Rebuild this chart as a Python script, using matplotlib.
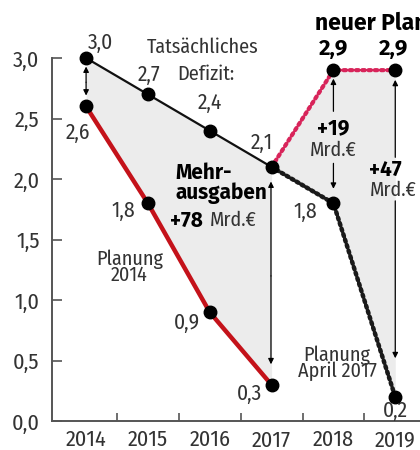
import matplotlib
matplotlib.use("Agg")
import matplotlib.pyplot as plt
from matplotlib import font_manager as fm

_avail = set(f.name for f in fm.fontManager.ttflist)
_cands = ['Fira Sans Condensed', 'PT Sans Narrow', 'Roboto Condensed', 'Open Sans Condensed',
          'Archivo Narrow', 'Asap Condensed', 'Liberation Sans Narrow', 'Encode Sans Condensed']
FONT = next((c for c in _cands if c in _avail), 'DejaVu Sans')
BFONT = next((c for c in ['Fira Sans', 'Fira Sans Condensed'] if c in _avail), FONT)
plt.rcParams['font.family'] = [FONT, 'DejaVu Sans']
BFAM = [BFONT, 'DejaVu Sans']

years_actual = [2014, 2015, 2016, 2017]
actual = [3.0, 2.7, 2.4, 2.1]
actual_labels = ["3,0", "2,7", "2,4", "2,1"]

years_plan14 = [2014, 2015, 2016, 2017]
plan14 = [2.6, 1.8, 0.9, 0.3]
plan14_labels = ["2,6", "1,8", "0,9", "0,3"]

years_plan17 = [2017, 2018, 2019]
plan17 = [2.1, 1.8, 0.2]
plan17_labels = ["2,1", "1,8", "0,2"]

years_new = [2017, 2018, 2019]
newplan = [2.1, 2.9, 2.9]
newplan_labels = ["2,1", "2,9", "2,9"]

year_ticks = [2014, 2015, 2016, 2017, 2018, 2019]
y_ticks = [0.0, 0.5, 1.0, 1.5, 2.0, 2.5, 3.0]
y_tick_labels = ["0,0", "0,5", "1,0", "1,5", "2,0", "2,5", "3,0"]

TXT = '#333333'
RED = '#c4121a'
PINK = '#d8245a'
FILL = '#ececec'

fig = plt.figure(figsize=(4.2, 4.5), dpi=100)
ax = fig.add_axes([0.124, 0.064, 0.876, 0.807])
ax.set_xlim(2013.45, 2019.4)
ax.set_ylim(0, 3.0)

# shaded areas
ax.fill_between(years_actual, actual, plan14, color=FILL, lw=0, zorder=1)
ax.fill_between(years_new, newplan, plan17, color=FILL, lw=0, zorder=1)

# lines
ax.plot(years_actual, actual, color='#111111', lw=1.6, zorder=3, clip_on=False)
ax.plot(years_plan14, plan14, color=RED, lw=3.2, zorder=3, clip_on=False)
ax.plot(years_plan17, plan17, color='#1a1a1a', lw=3.2, ls=(0, (0.5, 0.8)),
        dash_capstyle='round', zorder=3, clip_on=False)
ax.plot(years_new, newplan, color=PINK, lw=3.0, ls=(0, (0.6, 0.9)),
        dash_capstyle='round', zorder=3, clip_on=False)

# markers
for xs, ys in [(years_actual, actual), (years_plan14, plan14),
               (years_plan17[1:], plan17[1:]), (years_new[1:], newplan[1:])]:
    ax.plot(xs, ys, 'o', color='black', ms=9, zorder=5, clip_on=False)

fs = 15.5
def lab(x, y, s, **kw):
    ax.text(x, y, s, fontsize=fs, color=TXT, ha='center', va='center', **kw)

# value labels
lab(2014.23, 3.13, actual_labels[0])
lab(2015.02, 2.86, actual_labels[1])
lab(2016.00, 2.63, actual_labels[2])
lab(2016.85, 2.30, actual_labels[3])

lab(2013.87, 2.38, plan14_labels[0])
lab(2014.61, 1.74, plan14_labels[1])
lab(2015.63, 0.81, plan14_labels[2])
lab(2016.65, 0.23, plan14_labels[3])

lab(2017.54, 1.73, plan17_labels[1])
lab(2019.00, 0.09, plan17_labels[2])

ax.text(2018.0, 3.08, newplan_labels[1], fontsize=16, color='black', fontweight='bold',
        family=BFAM, ha='center', va='center', clip_on=False)
ax.text(2018.97, 3.08, newplan_labels[2], fontsize=16, color='black', fontweight='bold',
        family=BFAM, ha='center', va='center', clip_on=False)
ax.text(2017.71, 3.29, "neuer Plan", fontsize=16.5, color='black', fontweight='bold',
        family=BFAM, ha='left', va='center', clip_on=False)

# annotations
ax.text(2015.89, 3.09, "Tatsächliches", fontsize=14.5, color=TXT, ha='center', va='center')
ax.text(2015.93, 2.87, "Defizit:", fontsize=14.5, color=TXT, ha='center', va='center')
ax.text(2014.70, 1.27, "Planung\n2014", fontsize=14.5, color=TXT, ha='center', va='center', linespacing=0.8)
ax.text(2018.06, 0.48, "Planung\nApril 2017", fontsize=14.5, color=TXT, ha='center', va='center', linespacing=0.8)

ax.text(2015.44, 1.965, "Mehr-\nausgaben", fontsize=15, color='black', fontweight='bold',
        family=BFAM, ha='left', va='center', linespacing=0.95)
ax.text(2015.36, 1.66, "+78", fontsize=15, color='black', fontweight='bold',
        family=BFAM, ha='left', va='center')
ax.text(2016.0, 1.66, "Mrd.€", fontsize=14.5, color=TXT, ha='left', va='center')

ax.text(2018.0, 2.42, "+19", fontsize=15, color='black', fontweight='bold', family=BFAM, ha='center', va='center')
ax.text(2018.0, 2.24, "Mrd.€", fontsize=14.5, color=TXT, ha='center', va='center')
ax.text(2018.84, 2.08, "+47", fontsize=15, color='black', fontweight='bold', family=BFAM, ha='center', va='center')
ax.text(2018.97, 1.91, "Mrd.€", fontsize=14.5, color=TXT, ha='center', va='center')

# arrows
ak = dict(arrowstyle='-|>', color='black', lw=0.9, mutation_scale=8, shrinkA=0, shrinkB=0)
ax.annotate("", xy=(2014.0, 2.93), xytext=(2014.0, 2.8), arrowprops=ak)
ax.annotate("", xy=(2014.0, 2.69), xytext=(2014.0, 2.8), arrowprops=ak)
ax.annotate("", xy=(2016.99, 1.98), xytext=(2016.99, 1.2), arrowprops=ak)
ax.annotate("", xy=(2016.99, 0.47), xytext=(2016.99, 1.2), arrowprops=ak)
ax.annotate("", xy=(2018.0, 2.83), xytext=(2018.0, 2.56), arrowprops=ak)
ax.annotate("", xy=(2018.0, 1.92), xytext=(2018.0, 2.13), arrowprops=ak)
ax.annotate("", xy=(2019.0, 2.82), xytext=(2019.0, 2.18), arrowprops=ak)
ax.annotate("", xy=(2019.0, 0.52), xytext=(2019.0, 1.82), arrowprops=ak)

# axes styling
for s in ['top', 'right']:
    ax.spines[s].set_visible(False)
for s in ['left', 'bottom']:
    ax.spines[s].set_color('#555555')
    ax.spines[s].set_linewidth(1.4)

ax.set_yticks(y_ticks)
ax.set_yticklabels(y_tick_labels)
ax.tick_params(axis='y', direction='in', length=7, width=1.2, color='#555555',
               labelsize=16, labelcolor=TXT, pad=9)
ax.set_xticks(year_ticks)
ax.set_xticklabels([str(y) for y in year_ticks])
ax.tick_params(axis='x', which='major', length=0, labelsize=16, labelcolor=TXT, pad=6)
ax.set_xticks([y + 0.5 for y in year_ticks[:-1]], minor=True)
ax.tick_params(axis='x', which='minor', direction='in', length=6, width=1.2, color='#555555')

fig.savefig("out.png", dpi=100)
